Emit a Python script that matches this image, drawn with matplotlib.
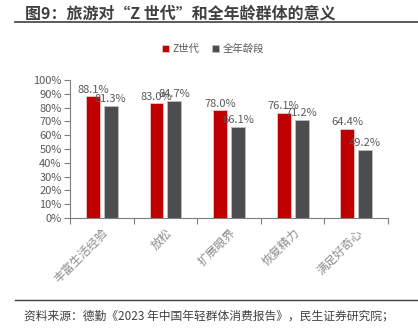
import matplotlib.pyplot as plt
import numpy as np

plt.rcParams['font.family'] = ['Noto Sans CJK SC', 'DejaVu Sans']

categories = ["丰富生活经验", "放松", "扩展眼界", "恢复精力", "满足好奇心"]
gen_z = [88.1, 83.0, 78.0, 76.1, 64.4]
all_ages = [81.3, 84.7, 66.1, 71.2, 49.2]
series_names = ["Z世代", "全年龄段"]

red = '#C00000'
gray = '#4D4D4F'
text_gray = '#595959'

fig = plt.figure(figsize=(4.18, 3.35), dpi=100)
ax = fig.add_axes([70 / 418, 1 - 218 / 335, 318 / 418, 138 / 335])

x = np.arange(len(categories))
w = 0.22
b1 = ax.bar(x - 0.14, gen_z, w, color=red, edgecolor='#F2C4C4', linewidth=0.6, label=series_names[0])
b2 = ax.bar(x + 0.14, all_ages, w, color=gray, edgecolor='#BFBFBF', linewidth=0.6, label=series_names[1])

for bars, vals in ((b1, gen_z), (b2, all_ages)):
    for r, v in zip(bars, vals):
        ax.text(r.get_x() + r.get_width() / 2, v + 1.2, f"{v:.1f}%", ha='center', va='bottom',
                fontsize=8, color=text_gray)

ax.set_xlim(-0.5, len(categories) - 0.5)
ax.set_ylim(0, 100)
ax.set_yticks(np.arange(0, 101, 10))
ax.set_yticklabels([f"{t}%" for t in range(0, 101, 10)], fontsize=8, color=text_gray)
ax.set_xticks(np.arange(-0.5, len(categories), 1), minor=False)
ax.set_xticklabels([])
ax.set_xticks(x, minor=True)
ax.set_xticklabels(categories, minor=True, rotation=45, ha='right', rotation_mode='anchor',
                   fontsize=8.5, color='#8C8C8C')
ax.tick_params(axis='x', which='minor', length=0, pad=6)
ax.tick_params(axis='x', which='major', length=4, direction='out', color='#7F7F7F')
ax.tick_params(axis='y', length=4, direction='out', color='#7F7F7F', pad=2)
for s in ['top', 'right']:
    ax.spines[s].set_visible(False)
ax.spines['left'].set_color('#7F7F7F')
ax.spines['bottom'].set_color('#7F7F7F')

ax.legend(loc='lower center', bbox_to_anchor=(0.45, 1.12), ncol=2, frameon=False, fontsize=7.5,
          handlelength=0.7, handleheight=0.7, columnspacing=1.2, handletextpad=0.3,
          labelcolor=text_gray)

fig.text(25 / 418, 1 - 14 / 335, "图9：旅游对“Z 世代”和全年龄群体的意义", fontsize=11.5,
         fontweight='bold', color='#404040', va='center')
fig.add_artist(plt.Line2D([15 / 418, 1], [1 - 22 / 335] * 2, color='#404040', linewidth=1.2))
fig.add_artist(plt.Line2D([15 / 418, 1], [1 - 300 / 335] * 2, color='#404040', linewidth=1.0))
fig.text(24 / 418, 1 - 316 / 335, "资料来源：德勤《2023 年中国年轻群体消费报告》，民生证券研究院；",
         fontsize=8.5, color='#404040', va='center')

fig.savefig('out.png', dpi=100)
